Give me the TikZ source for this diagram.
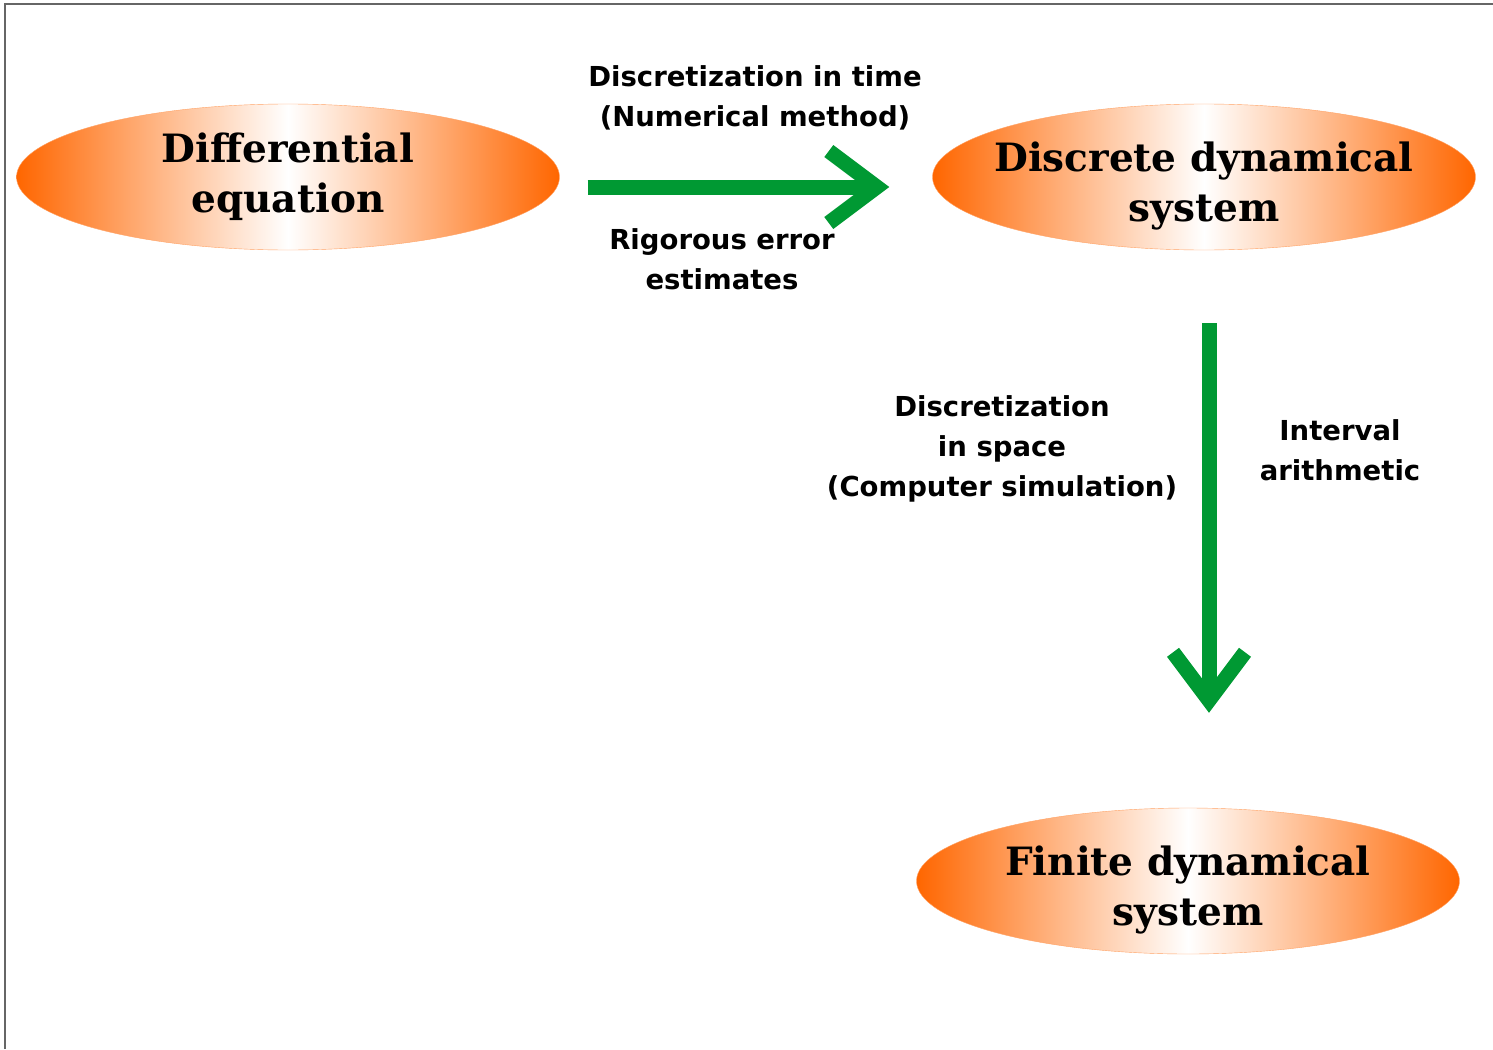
\documentclass[tikz,border=0pt]{standalone}
\usepackage{fontspec}
\setmainfont{DejaVu Serif}
\setsansfont{DejaVu Sans}
\usetikzlibrary{shapes.geometric,arrows.meta}
\definecolor{edgeorange}{RGB}{255,102,0}
\definecolor{flowgreen}{RGB}{0,153,51}

\begin{document}
\begin{tikzpicture}[x=1pt,y=-1pt,
		sysbox/.style={ellipse, minimum width=543pt, minimum height=146pt, inner xsep=-90pt, inner ysep=-30pt,
			draw=edgeorange!60, left color=edgeorange, right color=edgeorange, middle color=white,
			align=center, font=\bfseries\fontsize{39}{50}\selectfont},
		lowtext/.style={text height=98pt},
		flow/.style={draw=flowgreen, line width=15pt,
			-{Straight Barb[length=48pt,width=72pt,line cap=butt,line join=miter]}},
		lbl/.style={align=center, font=\sffamily\bfseries\fontsize{27.5}{40}\selectfont}]
		\useasboundingbox (0,0) rectangle (1493,1049);
		\draw[gray!80!black, line width=1.2pt] (5,1049) -- (5,4) -- (1493,4);
		\node[sysbox] (de) at (288,177) {Differential\\equation};
		\node[sysbox, lowtext] (dds) at (1204,177) {Discrete dynamical\\system};
		\node[sysbox, lowtext] (fds) at (1188,881) {Finite dynamical\\system};
		\draw[flow, shorten <=28pt, shorten >=43pt] ([yshift=-10pt]de.east) -- ([yshift=-10pt]dds.west);
		\draw[flow, shorten <=73pt, shorten >=95pt] ([xshift=5pt]dds.south) -- ([xshift=5pt]dds.south |- fds.north);
		\node[lbl] (timelbl) at (755,98) {Discretization in time\\(Numerical method)};
		\node[lbl] (errlbl) at (722,259) {Rigorous error\\estimates};
		\node[lbl] (spacelbl) at (1002,449) {Discretization\\in space\\(Computer simulation)};
		\node[lbl] (ivlbl) at (1340,450) {Interval\\arithmetic};
	\end{tikzpicture}
\end{document}
